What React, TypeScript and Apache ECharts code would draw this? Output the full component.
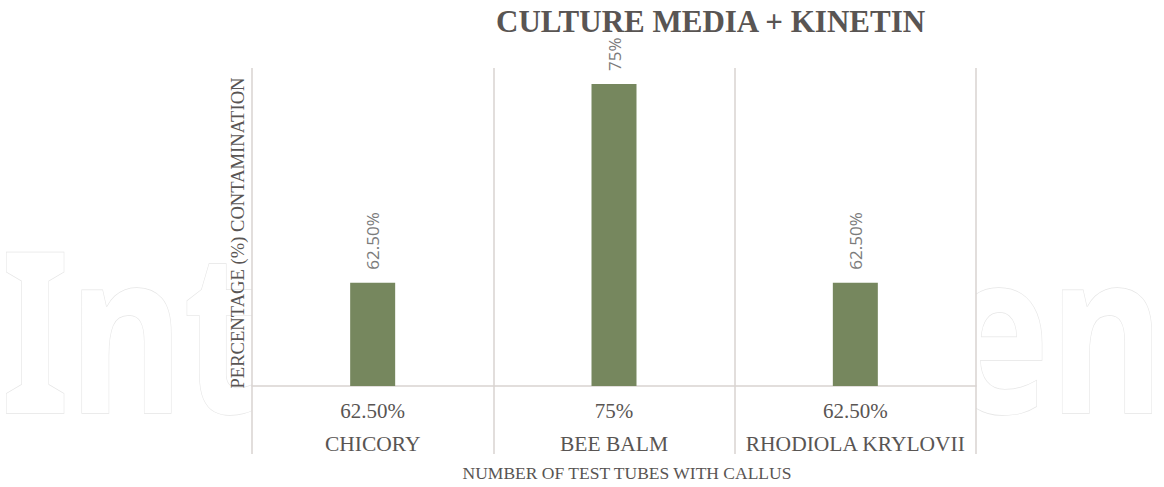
import React, { useEffect, useRef } from "react";
import * as echarts from "echarts";

const categories = ["CHICORY", "BEE BALM", "RHODIOLA KRYLOVII"];
const contamination = [62.5, 75, 62.5];
const valueLabels = ["62.50%", "75%", "62.50%"];
const titleText = "CULTURE MEDIA + KINETIN";
const yAxisName = "PERCENTAGE (%) CONTAMINATION";
const xAxisName = "NUMBER OF TEST TUBES WITH CALLUS";
const watermarkParts = ["Int", "en"];

const SERIF = '"Liberation Serif", "Times New Roman", serif';
const GRID_COLOR = "#d9d3d1";
const TEXT_COLOR = "#595553";

export default function App() {
  const ref = useRef<HTMLDivElement>(null);

  useEffect(() => {
    if (!ref.current) return;
    const chart = echarts.init(ref.current, null, { renderer: "svg" });
    const wmX = [1, 945];
    const option: any = {
      animation: false,
      backgroundColor: "#ffffff",
      title: {
        text: titleText,
        left: 496,
        top: 6,
        padding: 0,
        textStyle: {
          fontFamily: SERIF,
          fontWeight: "bold",
          fontSize: 31,
          color: TEXT_COLOR,
        },
      },
      graphic: [
        ...watermarkParts.map((t, i) => ({
          type: "text",
          z: -20,
          x: wmX[i],
          y: 325,
          scaleX: 0.78,
          style: {
            text: t,
            fontFamily: '"Noto Sans", sans-serif',
            fontWeight: "bold",
            fontSize: 225,
            fill: "#ffffff",
            stroke: "#e6e6e6",
            lineWidth: 1.5,
            verticalAlign: "middle",
            align: "left",
          },
        })),
        {
          type: "rect",
          z: -10,
          shape: { x: 252, y: 60, width: 724, height: 402 },
          style: { fill: "#ffffff" },
        },
      ],
      grid: { left: 252, right: 188, top: 68, bottom: 97 },
      xAxis: {
        type: "category",
        data: categories,
        name: xAxisName,
        nameLocation: "middle",
        nameGap: 78,
        nameTextStyle: {
          fontFamily: SERIF,
          fontSize: 17.5,
          color: TEXT_COLOR,
          padding: [0, 0, 0, 26],
        },
        axisLine: { show: true, lineStyle: { color: GRID_COLOR, width: 1.5 } },
        axisTick: {
          show: true,
          length: 68,
          interval: 0,
          alignWithLabel: false,
          lineStyle: { color: GRID_COLOR, width: 1.5 },
        },
        splitLine: { show: true, interval: 0, lineStyle: { color: GRID_COLOR, width: 1.5 } },
        axisLabel: {
          interval: 0,
          margin: 8.5,
          formatter: (v: string, i: number) => `{v|${valueLabels[i]}}\n{c|${v}}`,
          rich: {
            v: { fontFamily: SERIF, fontSize: 21, lineHeight: 33, color: TEXT_COLOR },
            c: { fontFamily: SERIF, fontSize: 21.5, lineHeight: 33, color: TEXT_COLOR },
          },
        },
      },
      yAxis: {
        type: "value",
        min: 56,
        max: 76,
        name: yAxisName,
        nameLocation: "middle",
        nameRotate: 90,
        nameGap: 5,
        nameTextStyle: {
          fontFamily: SERIF,
          fontSize: 18.6,
          color: TEXT_COLOR,
          padding: [0, 12, 0, 0],
        },
        axisLine: { show: false },
        axisTick: { show: false },
        axisLabel: { show: false },
        splitLine: { show: false },
      },
      series: [
        {
          type: "bar",
          data: contamination,
          barWidth: 45,
          itemStyle: { color: "#76875e" },
          label: {
            show: true,
            position: "top",
            rotate: 90,
            align: "left",
            verticalAlign: "middle",
            distance: 13,
            formatter: (p: any) => valueLabels[p.dataIndex],
            fontFamily: '"Open Sans", sans-serif',
            fontSize: 17,
            color: "#7b7b7b",
          },
        },
      ],
    };
    chart.setOption(option);
    return () => chart.dispose();
  }, []);

  return (
    <div
      ref={ref}
      style={{ position: "fixed", left: 0, top: 0, width: 1164, height: 487 }}
    />
  );
}
